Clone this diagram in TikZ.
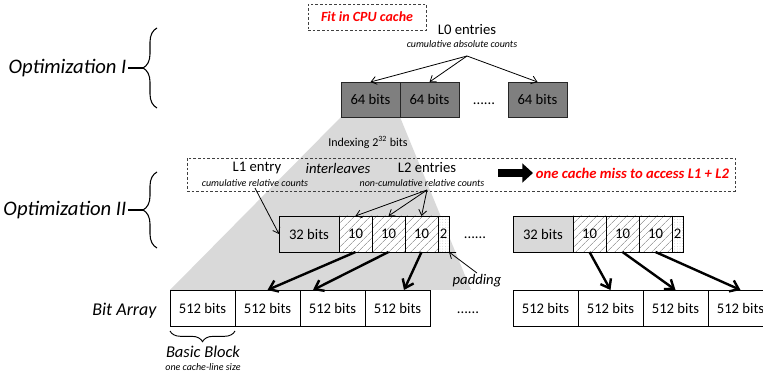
\documentclass[tikz,border=0pt]{standalone}
\usepackage{fontspec}
\setmainfont{Carlito}
\usetikzlibrary{positioning}
\usetikzlibrary{arrows.meta}
\usetikzlibrary{calc}
\usetikzlibrary{backgrounds}
\usetikzlibrary{patterns.meta}
\usetikzlibrary{decorations.pathreplacing}
\definecolor{figGrisOscuro}{RGB}{127,127,127}
\definecolor{figGrisClaro}{RGB}{217,217,217}
\definecolor{figRaya}{RGB}{165,165,165}
\definecolor{figRojo}{RGB}{255,0,0}
\tikzset{
  celda/.style={
    rectangle, draw=black, line width=0.7pt, fill=white,
    inner sep=0pt, outer sep=0pt, minimum height=27pt,
    align=center, font=\fontsize{11}{13}\selectfont
  },
  celdal0/.style={celda, fill=figGrisOscuro, draw=black!85, minimum width=44.25pt, minimum height=26.25pt},
  celdal1/.style={celda, fill=figGrisClaro, minimum width=45pt},
  rayada/.style={celda, minimum width=24.75pt, preaction={fill=white},
    pattern={Lines[angle=45,distance=4pt,line width=0.5pt]}, pattern color=figRaya},
  relleno/.style={celda, minimum width=8.25pt, preaction={fill=white},
    pattern={Dots[distance=2pt,radius=0.25pt]}, pattern color=figRaya},
  bloque512/.style={celda, minimum width=48.75pt},
  marco/.style={rectangle, draw=black!75, line width=0.6pt, dash pattern=on 2pt off 1.5pt, inner sep=0pt},
  etiqueta/.style={inner sep=1pt, font=\fontsize{11}{13}\selectfont},
  sub/.style={inner sep=1pt, font=\fontsize{7.5}{9}\selectfont\itshape},
  titulo/.style={inner sep=1pt, font=\fontsize{15.5}{18}\selectfont\itshape},
  aviso/.style={inner sep=2pt, text=figRojo, font=\fontsize{11}{13}\selectfont\bfseries\itshape},
  puntos/.style={inner sep=0pt, font=\fontsize{11}{13}\selectfont},
  flecha/.style={-{Straight Barb[length=4pt,width=6pt]}, line width=0.6pt},
  flechag/.style={-{Straight Barb[length=6pt,width=9pt]}, line width=1.8pt},
  flechagruesa/.style={-{Triangle[length=8pt,width=14pt]}, line width=6pt},
  llave/.style={decorate, decoration={brace, amplitude=10.5pt}, line width=0.8pt},
  llavep/.style={decorate, decoration={brace, amplitude=8pt}, line width=0.7pt}
}

\begin{document}
\begin{tikzpicture}[x=0.75pt, y=-0.75pt]
  \useasboundingbox (0,0) rectangle (763,377);
  \clip (0,0) rectangle (763,377);

  % L0
  \node[marco, aviso, minimum width=88.5pt, minimum height=19.5pt, font=\fontsize{10.5}{12}\selectfont\bfseries\itshape] (cpu) at (367,17) {Fit in CPU cache};
  \node[etiqueta] (l0lbl) at (467,30) {L0 entries};
  \node[sub] (l0sub) at (462,44) {cumulative absolute counts};
  \coordinate (l0src) at (467,56);
  \node[celdal0, anchor=north west] (l0a) at (341,82) {64 bits};
  \node[celdal0, right=0pt of l0a] (l0b) {64 bits};
  \node[puntos] (dotsa) at (484,104) {......};
  \node[celdal0, anchor=north west] (l0c) at (508,82) {64 bits};
  \draw[flecha] (l0src) -- (l0a.north);
  \draw[flecha] (l0src) -- (l0b.north);
  \draw[flecha] (l0src) -- (l0c.north);

  \node[titulo, anchor=east] (opt1) at (128,68) {Optimization I};
  \coordinate (punta1) at (143,68);
  \draw[llave] (157,108) -- (157,28);
  \draw[line width=0.8pt] (opt1.east) -- (punta1);

  % L1 + L2
  \node[etiqueta, font=\fontsize{9}{11}\selectfont] (idx) at (368,142) {Indexing 2\textsuperscript{32} bits};
  \node[marco, minimum width=411pt, minimum height=24.75pt] (l12box) at (461,174.5) {};
  \node[etiqueta] (l1lbl) at (257,168) {L1 entry};
  \node[sub] (l1sub) at (255,183) {cumulative relative counts};
  \node[etiqueta, font=\fontsize{11}{13}\selectfont\itshape] (inter) at (338,168) {interleaves};
  \node[etiqueta] (l2lbl) at (427,168) {L2 entries};
  \node[sub] (l2sub) at (422,183) {non-cumulative relative counts};
  \coordinate (l2src) at (427,190);
  \coordinate (bigsrc) at (498,173);
  \node[aviso, anchor=west] (miss) at (533,173) {one cache miss to access L1 + L2};
  \draw[flechagruesa] (bigsrc) -- (miss.west);

  \node[celdal1, anchor=north west] (l1a) at (279,216) {32 bits};
  \node[rayada, right=0pt of l1a] (c1) {10};
  \node[rayada, right=0pt of c1] (c2) {10};
  \node[rayada, right=0pt of c2] (c3) {10};
  \node[relleno, right=0pt of c3] (c4) {2};
  \node[puntos] (dotsb) at (475,238) {......};
  \node[celdal1, anchor=north west] (l1b) at (513,216) {32 bits};
  \node[rayada, right=0pt of l1b] (d1) {10};
  \node[rayada, right=0pt of d1] (d2) {10};
  \node[rayada, right=0pt of d2] (d3) {10};
  \node[relleno, right=0pt of d3] (d4) {2};
  \draw[flecha] (l1sub.south) -- (l1a.west);
  \draw[flecha] (l2src) -- (c1.north);
  \draw[flecha] (l2src) -- (c2.north);
  \draw[flecha] (l2src) -- (c3.north);

  \node[etiqueta, font=\fontsize{11}{13}\selectfont\itshape] (pad) at (477,281) {padding};
  \draw[flecha] (pad.north) -- (c4.south east);

  \node[titulo, anchor=east] (opt2) at (128,210) {Optimization II};
  \coordinate (punta2) at (143,210);
  \draw[llave] (157,248) -- (157,172);
  \draw[line width=0.8pt] (opt2.east) -- (punta2);

  % Bit array
  \node[titulo, anchor=east, font=\fontsize{13.5}{16}\selectfont\itshape] (bits) at (158,311) {Bit Array};
  \node[bloque512, anchor=north west] (ba1) at (170,290) {512 bits};
  \node[bloque512, right=0pt of ba1] (ba2) {512 bits};
  \node[bloque512, right=0pt of ba2] (ba3) {512 bits};
  \node[bloque512, right=0pt of ba3] (ba4) {512 bits};
  \node[puntos] (dotsc) at (468,313) {......};
  \node[bloque512, anchor=north west] (bb1) at (513,290) {512 bits};
  \node[bloque512, right=0pt of bb1] (bb2) {512 bits};
  \node[bloque512, right=0pt of bb2] (bb3) {512 bits};
  \node[bloque512, right=0pt of bb3] (bb4) {512 bits};
  \draw[flechag] (c1.south) -- (ba2.north);
  \draw[flechag] (c2.south) -- ($(ba3.north west)!0.2!(ba3.north east)$);
  \draw[flechag] (c3.south) -- ($(ba4.north west)!0.6!(ba4.north east)$);
  \draw[flechag] (d1.south) -- (bb2.north);
  \draw[flechag] (d2.south) -- (bb3.north);
  \draw[flechag] (d3.south) -- (bb4.north);

  \draw[llavep] (ba1.south east) ++(0,5) -- ($(ba1.south west)+(0,5)$);
  \node[etiqueta, font=\fontsize{12.4}{15}\selectfont\itshape] (basic) at (203,352) {Basic Block};
  \node[sub] (basicsub) at (203,367) {one cache-line size};

  \begin{pgfonlayer}{background}
    \fill[figGrisClaro] (l0a.south west) -- (l0a.south east) -- ($(ba4.north east)+(41,0)$) -- (ba1.north west) -- cycle;
  \end{pgfonlayer}
\end{tikzpicture}
\end{document}
